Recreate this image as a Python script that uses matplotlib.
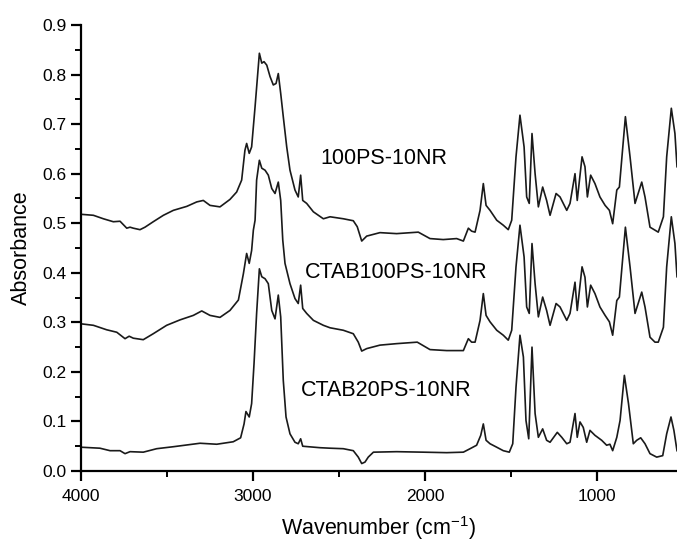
import numpy as np
import matplotlib
matplotlib.use("Agg")
import matplotlib.pyplot as plt
from matplotlib.ticker import MultipleLocator

plt.rcParams['font.family'] = ['Liberation Sans', 'DejaVu Sans']
plt.rcParams['mathtext.default'] = 'regular'

# spectra: wavenumber (cm-1) and absorbance
wn_100ps = [4000, 3928, 3870, 3812, 3773, 3734, 3715, 3696, 3657, 3628, 3580, 3521, 3463, 3385,
            3327, 3289, 3250, 3192, 3134, 3095, 3066, 3047, 3037, 3022, 3008, 2988, 2963, 2949,
            2936, 2920, 2901, 2882, 2866, 2853, 2839, 2824, 2804, 2785, 2756, 2737, 2723, 2711,
            2688, 2649, 2591, 2552, 2475, 2417, 2394, 2368, 2339, 2262, 2165, 2039, 1971, 1894,
            1816, 1777, 1748, 1729, 1709, 1680, 1661, 1645, 1622, 1583, 1545, 1516, 1496, 1471,
            1448, 1424, 1409, 1394, 1378, 1360, 1341, 1316, 1293, 1273, 1238, 1215, 1176, 1157,
            1128, 1115, 1087, 1070, 1056, 1037, 1012, 983, 953, 928, 909, 885, 870, 835, 808,
            779, 740, 721, 692, 663, 644, 614, 595, 568, 547, 535]
abs_100ps = [0.518, 0.516, 0.509, 0.503, 0.504, 0.490, 0.492, 0.490, 0.487, 0.492, 0.503, 0.516,
             0.526, 0.534, 0.543, 0.546, 0.536, 0.533, 0.548, 0.563, 0.587, 0.647, 0.661, 0.641,
             0.654, 0.735, 0.843, 0.823, 0.826, 0.819, 0.796, 0.779, 0.782, 0.802, 0.762, 0.715,
             0.654, 0.607, 0.567, 0.553, 0.597, 0.546, 0.540, 0.523, 0.509, 0.513, 0.509, 0.505,
             0.493, 0.464, 0.474, 0.481, 0.479, 0.482, 0.469, 0.467, 0.469, 0.464, 0.490, 0.484,
             0.482, 0.526, 0.580, 0.536, 0.526, 0.506, 0.496, 0.487, 0.506, 0.634, 0.718, 0.654,
             0.553, 0.540, 0.681, 0.600, 0.533, 0.573, 0.546, 0.516, 0.560, 0.553, 0.526, 0.540,
             0.600, 0.546, 0.634, 0.614, 0.553, 0.597, 0.580, 0.553, 0.536, 0.526, 0.499, 0.567,
             0.573, 0.715, 0.634, 0.540, 0.583, 0.553, 0.492, 0.486, 0.482, 0.513, 0.634, 0.732,
             0.681, 0.614]

wn_ctab100 = [4000, 3928, 3851, 3792, 3744, 3720, 3696, 3638, 3580, 3502, 3424, 3347, 3298, 3250,
              3192, 3134, 3085, 3056, 3037, 3022, 3008, 2998, 2988, 2979, 2963, 2949, 2930, 2911,
              2891, 2872, 2853, 2839, 2827, 2814, 2785, 2756, 2737, 2723, 2711, 2688, 2649, 2591,
              2552, 2475, 2417, 2388, 2368, 2339, 2262, 2165, 2045, 1971, 1874, 1777, 1748, 1729,
              1709, 1680, 1661, 1645, 1622, 1583, 1545, 1516, 1496, 1471, 1448, 1424, 1409, 1394,
              1378, 1360, 1341, 1316, 1293, 1273, 1238, 1215, 1176, 1157, 1128, 1115, 1087, 1070,
              1056, 1037, 1012, 983, 953, 928, 909, 885, 870, 835, 808, 779, 740, 721, 692, 663,
              644, 614, 595, 568, 547, 535]
abs_ctab100 = [0.297, 0.294, 0.285, 0.280, 0.267, 0.272, 0.268, 0.265, 0.277, 0.294, 0.305, 0.314,
               0.323, 0.314, 0.310, 0.324, 0.345, 0.398, 0.439, 0.419, 0.445, 0.486, 0.506, 0.587,
               0.627, 0.611, 0.607, 0.597, 0.570, 0.560, 0.583, 0.546, 0.466, 0.419, 0.378, 0.348,
               0.338, 0.375, 0.328, 0.318, 0.304, 0.294, 0.289, 0.284, 0.277, 0.260, 0.242, 0.247,
               0.254, 0.257, 0.260, 0.245, 0.243, 0.243, 0.267, 0.260, 0.260, 0.304, 0.358, 0.314,
               0.301, 0.284, 0.274, 0.264, 0.284, 0.412, 0.496, 0.432, 0.331, 0.318, 0.459, 0.378,
               0.311, 0.351, 0.324, 0.294, 0.338, 0.331, 0.304, 0.318, 0.381, 0.324, 0.412, 0.391,
               0.331, 0.375, 0.358, 0.331, 0.314, 0.301, 0.274, 0.344, 0.351, 0.492, 0.412, 0.318,
               0.361, 0.331, 0.270, 0.260, 0.260, 0.290, 0.412, 0.513, 0.459, 0.392]

wn_ctab20 = [4000, 3890, 3831, 3773, 3744, 3715, 3638, 3560, 3463, 3308, 3211, 3115, 3072, 3052,
             3041, 3022, 3008, 2994, 2979, 2963, 2949, 2930, 2911, 2891, 2872, 2853, 2839, 2824,
             2808, 2785, 2756, 2737, 2723, 2711, 2678, 2610, 2552, 2475, 2417, 2388, 2368, 2349,
             2330, 2300, 2165, 2010, 1874, 1777, 1738, 1700, 1676, 1661, 1645, 1622, 1583, 1545,
             1510, 1490, 1471, 1448, 1428, 1413, 1397, 1378, 1360, 1341, 1316, 1293, 1273, 1231,
             1205, 1176, 1157, 1128, 1115, 1099, 1080, 1060, 1041, 1012, 973, 944, 925, 909, 885,
             866, 841, 817, 789, 769, 746, 721, 692, 653, 618, 595, 570, 553, 535]
abs_ctab20 = [0.048, 0.046, 0.041, 0.041, 0.035, 0.039, 0.038, 0.045, 0.049, 0.056, 0.054, 0.059,
              0.067, 0.095, 0.120, 0.109, 0.136, 0.217, 0.318, 0.408, 0.392, 0.388, 0.378, 0.324,
              0.307, 0.355, 0.311, 0.183, 0.109, 0.075, 0.058, 0.055, 0.065, 0.050, 0.049, 0.047,
              0.046, 0.045, 0.041, 0.028, 0.015, 0.018, 0.028, 0.038, 0.039, 0.038, 0.037, 0.038,
              0.045, 0.052, 0.072, 0.095, 0.062, 0.055, 0.048, 0.041, 0.038, 0.055, 0.169, 0.274,
              0.230, 0.102, 0.065, 0.250, 0.116, 0.068, 0.085, 0.062, 0.058, 0.078, 0.068, 0.055,
              0.058, 0.116, 0.068, 0.099, 0.088, 0.058, 0.082, 0.072, 0.062, 0.052, 0.054, 0.041,
              0.068, 0.102, 0.193, 0.136, 0.055, 0.062, 0.067, 0.055, 0.035, 0.028, 0.031, 0.075,
              0.109, 0.082, 0.041]

labels = ['100PS-10NR', 'CTAB100PS-10NR', 'CTAB20PS-10NR']
label_pos = [(2610, 0.631), (2698, 0.400), (2720, 0.163)]

fig = plt.figure(figsize=(6.77, 5.42), dpi=100)
ax = fig.add_axes([81 / 677, 71 / 542, 596 / 677, 446 / 542])

for wn, ab in [(wn_100ps, abs_100ps), (wn_ctab100, abs_ctab100), (wn_ctab20, abs_ctab20)]:
    ax.plot(wn, ab, color='#1a1a1a', lw=1.2)

for text, (x, y) in zip(labels, label_pos):
    ax.text(x, y, text, fontsize=15.5, color='black', ha='left', va='center')

ax.set_xlim(4000, 535)
ax.set_ylim(0, 0.9)
ax.xaxis.set_major_locator(MultipleLocator(1000))
ax.xaxis.set_minor_locator(MultipleLocator(500))
ax.yaxis.set_major_locator(MultipleLocator(0.1))
ax.yaxis.set_minor_locator(MultipleLocator(0.05))
ax.yaxis.set_major_formatter(matplotlib.ticker.FormatStrFormatter('%.1f'))

ax.spines['top'].set_visible(False)
ax.spines['right'].set_visible(False)
ax.spines['left'].set_linewidth(1.6)
ax.spines['bottom'].set_linewidth(1.6)
ax.tick_params(which='major', direction='out', length=7, width=1.6, labelsize=12.5, colors='black')
ax.tick_params(which='minor', direction='out', length=4, width=1.4)
ax.tick_params(axis='x', which='major', pad=6)

ax.set_xlabel('Wavenumber (cm$^{-1}$)', fontsize=15.5, labelpad=7)
ax.set_ylabel('Absorbance', fontsize=15.5, labelpad=7)

fig.savefig('out.png', dpi=100)
